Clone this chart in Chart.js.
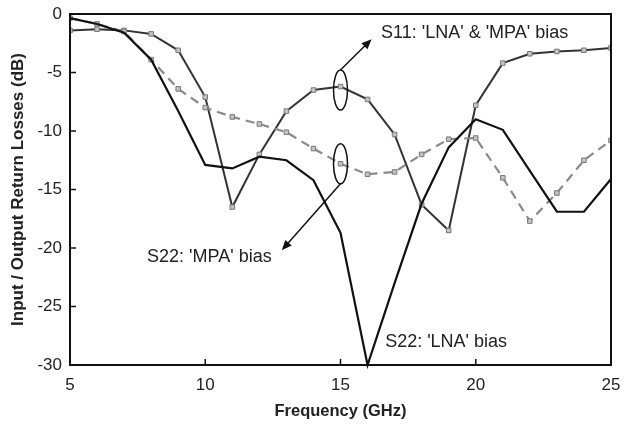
<!DOCTYPE html>
<html>
<head>
<meta charset="utf-8">
<script src="https://cdn.jsdelivr.net/npm/chart.js@4.4.1/dist/chart.umd.min.js"></script>
<style>
  html, body { margin: 0; padding: 0; background: #fff; }
  #wrap { width: 624px; height: 425px; }
</style>
</head>
<body>
<div id="wrap"><canvas id="grafico" width="624" height="425"></canvas></div>
<script>
const frecuencias = [5, 6, 7, 8, 9, 10, 11, 12, 13, 14, 15, 16, 17, 18, 19, 20, 21, 22, 23, 24, 25];
const s11 = [-1.4, -1.3, -1.4, -1.7, -3.1, -7.1, -16.5, -12.0, -8.3, -6.5, -6.2, -7.3, -10.3, -16.3, -18.5, -7.8, -4.2, -3.4, -3.2, -3.1, -2.9];
const s22Mpa = [-0.35, -0.85, -1.5, -3.9, -6.4, -8.0, -8.8, -9.4, -10.1, -11.5, -12.8, -13.7, -13.5, -12.0, -10.7, -10.6, -14.0, -17.7, -15.3, -12.5, -10.8];
const s22Lna = [-0.35, -0.85, -1.6, -3.9, -8.3, -12.9, -13.2, -12.2, -12.5, -14.2, -18.7, -30, -23.0, -16.2, -11.4, -9.0, -9.9, -13.4, -16.9, -16.9, -14.1];
const xTicks = [5, 10, 15, 20, 25];
const yTicks = [0, -5, -10, -15, -20, -25, -30];

const etiquetaS11 = "S11: 'LNA' & 'MPA' bias";
const etiquetaMpa = "S22: 'MPA' bias";
const etiquetaLna = "S22: 'LNA' bias";

function puntos(valores){
    return frecuencias.map(function(f, i){ return {x: f, y: valores[i]}; });
}

// marco, ticks hacia dentro, elipses, flechas y textos
const anotaciones = {
    id: 'anotaciones',
    afterDraw: function(chart){
        const ctx = chart.ctx;
        const a = chart.chartArea;
        const xs = chart.scales.x;
        const ys = chart.scales.y;
        ctx.save();
        ctx.strokeStyle = '#111';
        ctx.lineWidth = 2;
        ctx.strokeRect(a.left, a.top, a.right - a.left, a.bottom - a.top);

        ctx.lineWidth = 1.5;
        ctx.beginPath();
        yTicks.forEach(function(v){
            if (v === 0 || v === -30) return;
            const py = ys.getPixelForValue(v);
            ctx.moveTo(a.left, py);
            ctx.lineTo(a.left + 6, py);
        });
        xTicks.forEach(function(v){
            if (v === 5 || v === 25) return;
            const px = xs.getPixelForValue(v);
            ctx.moveTo(px, a.bottom);
            ctx.lineTo(px, a.bottom - 6);
        });
        ctx.stroke();

        // elipses en 15 GHz
        const cx = xs.getPixelForValue(15);
        const e1 = ys.getPixelForValue(-6.5);
        const e2 = ys.getPixelForValue(-12.8);
        ctx.lineWidth = 1.5;
        ctx.strokeStyle = '#111';
        [e1, e2].forEach(function(cy){
            ctx.beginPath();
            ctx.ellipse(cx, cy, 7, 20, 0, 0, Math.PI * 2);
            ctx.stroke();
        });

        function flecha(x1, y1, x2, y2){
            const ang = Math.atan2(y2 - y1, x2 - x1);
            ctx.beginPath();
            ctx.moveTo(x1, y1);
            ctx.lineTo(x2 - 8 * Math.cos(ang), y2 - 8 * Math.sin(ang));
            ctx.stroke();
            ctx.beginPath();
            ctx.moveTo(x2, y2);
            ctx.lineTo(x2 - 11 * Math.cos(ang - 0.4), y2 - 11 * Math.sin(ang - 0.4));
            ctx.lineTo(x2 - 11 * Math.cos(ang + 0.4), y2 - 11 * Math.sin(ang + 0.4));
            ctx.closePath();
            ctx.fill();
        }
        ctx.fillStyle = '#111';
        flecha(cx, e1 - 20, xs.getPixelForValue(16.15), ys.getPixelForValue(-2.15));
        flecha(cx, e2 + 20, xs.getPixelForValue(12.83), ys.getPixelForValue(-20.2));

        ctx.font = '18px "Liberation Sans", Arial, sans-serif';
        ctx.fillStyle = '#222';
        ctx.textBaseline = 'middle';
        ctx.textAlign = 'left';
        ctx.fillText(etiquetaS11, xs.getPixelForValue(16.5), ys.getPixelForValue(-1.6));
        ctx.fillText(etiquetaMpa, xs.getPixelForValue(7.85), ys.getPixelForValue(-20.8));
        ctx.fillText(etiquetaLna, xs.getPixelForValue(16.65), ys.getPixelForValue(-28.0));
        ctx.restore();
    }
};

function sinRelleno(scale){
    scale.paddingLeft = 0;
    scale.paddingRight = 0;
    scale.paddingTop = 0;
    scale.paddingBottom = 0;
}

Chart.defaults.font.family = '"Liberation Sans", Arial, sans-serif';
Chart.defaults.color = '#222';

new Chart(document.getElementById('grafico'), {
    type: 'line',
    plugins: [anotaciones],
    data: {
        datasets: [
            {
                label: "S22 'LNA' bias",
                data: puntos(s22Lna),
                borderColor: '#111',
                borderWidth: 2.2,
                pointRadius: 0,
                fill: false,
                tension: 0,
                clip: false
            },
            {
                label: "S22 'MPA' bias",
                data: puntos(s22Mpa),
                borderColor: '#8a8a8a',
                borderWidth: 2.2,
                borderDash: [9, 6],
                pointStyle: 'rect',
                pointRadius: 3.2,
                pointBackgroundColor: '#c4c4c4',
                pointBorderColor: '#777',
                pointBorderWidth: 1,
                fill: false,
                tension: 0
            },
            {
                label: "S11 'LNA' & 'MPA' bias",
                data: puntos(s11),
                borderColor: '#333',
                borderWidth: 2,
                pointStyle: 'rect',
                pointRadius: 3.2,
                pointBackgroundColor: '#c4c4c4',
                pointBorderColor: '#777',
                pointBorderWidth: 1,
                fill: false,
                tension: 0
            }
        ]
    },
    options: {
        responsive: false,
        animation: false,
        layout: { padding: { left: 0, top: 14, right: 13, bottom: 0 } },
        plugins: {
            legend: { display: false },
            tooltip: { enabled: false }
        },
        scales: {
            x: {
                type: 'linear',
                min: 5,
                max: 25,
                afterFit: function(scale){ scale.height = 60; sinRelleno(scale); },
                afterBuildTicks: function(scale){ scale.ticks = xTicks.map(function(v){ return {value: v}; }); },
                grid: { display: false, drawTicks: false },
                border: { display: false },
                ticks: { padding: 10, font: { size: 17 }, color: '#222', maxRotation: 0 },
                title: { display: true, text: 'Frequency (GHz)', font: { size: 16.5, weight: 'bold' }, color: '#222', padding: { top: 5 } }
            },
            y: {
                min: -30,
                max: 0,
                afterFit: function(scale){ scale.width = 70; sinRelleno(scale); },
                afterBuildTicks: function(scale){ scale.ticks = yTicks.map(function(v){ return {value: v}; }); },
                grid: { display: false, drawTicks: false },
                border: { display: false },
                ticks: { padding: 8, font: { size: 17 }, color: '#222' },
                title: { display: true, text: 'Input / Output Return Losses (dB)', font: { size: 17, weight: 'bold' }, color: '#222', padding: { top: 8, bottom: 0 } }
            }
        }
    }
});
</script>
</body>
</html>
